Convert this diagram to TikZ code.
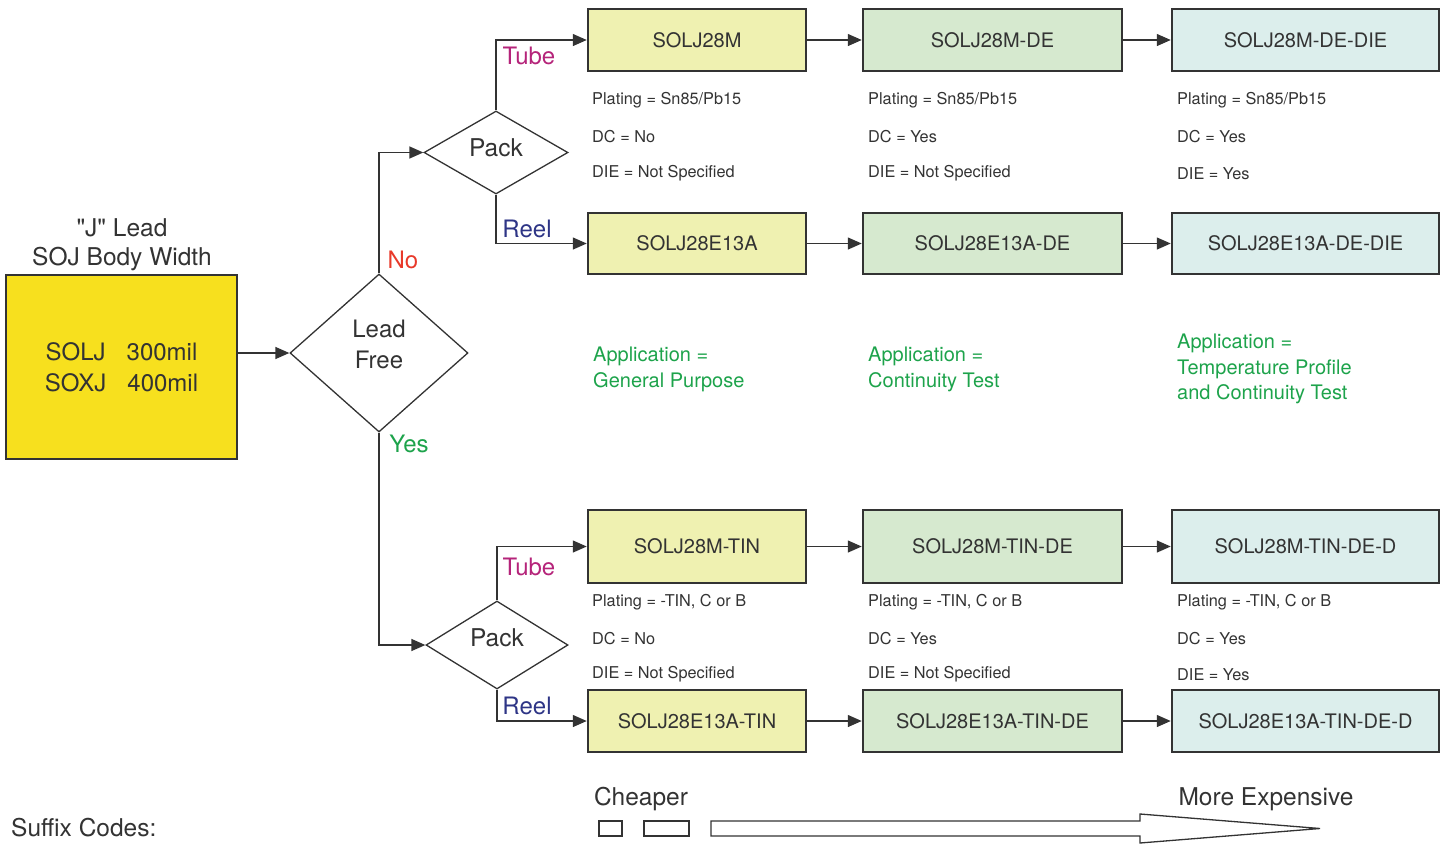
\documentclass[tikz,border=0pt]{standalone}
\usepackage{fontspec}
\setmainfont{TeX Gyre Heros}
\usetikzlibrary{shapes.geometric,arrows.meta}
\definecolor{ink}{HTML}{333333}
\definecolor{srcyellow}{HTML}{F7E01E}
\definecolor{cheapcol}{HTML}{EFF1B1}
\definecolor{midcol}{HTML}{D6E9CF}
\definecolor{dearcol}{HTML}{DCEEEC}
\definecolor{nored}{HTML}{E8392A}
\definecolor{yesgreen}{HTML}{1DA34B}
\definecolor{tubemag}{HTML}{B5247A}
\definecolor{reelnavy}{HTML}{2E3586}
\tikzset{
  part/.style={draw=ink, line width=2.5pt, text=ink, minimum height=#1, inner sep=0pt,
    font=\fontsize{20}{24}\selectfont},
  part/.default=62pt,
  choice/.style={diamond, draw=ink, line width=1.3pt, inner sep=0pt},
  prop/.style={anchor=west, text=ink, inner sep=0pt, font=\fontsize{16.3}{19}\selectfont},
  appl/.style={anchor=north west, align=left, text=yesgreen, inner sep=0pt,
    font=\fontsize{20}{25.5}\selectfont},
  big/.style={text=ink, inner sep=0pt, font=\fontsize{24.5}{30}\selectfont},
  branch/.style={inner sep=0pt, font=\fontsize{24}{29}\selectfont},
  wire/.style={draw=ink, line width=1.4pt, ->}
}
\begin{document}
\begin{tikzpicture}[x=1pt, y=-1pt, >={Triangle[length=14pt,width=12pt]}, line join=miter]
  \useasboundingbox (0,0) rectangle (1444,844);
  \def\ca{697} \def\cb{992.5} \def\cc{1305.5} % column centres
  % source and decisions
  \node[big, align=center, font=\fontsize{24.5}{29}\selectfont] (title) at (122,245)
    {\textquotedbl J\textquotedbl{} Lead\\SOJ Body Width};
  \node[draw=ink, line width=2.8pt, fill=srcyellow, minimum width=231pt, minimum height=184pt,
    big, font=\fontsize{24}{31}\selectfont, align=center] (src) at (121.5,367)
    {SOLJ\hspace{21pt}300mil\\SOXJ\hspace{21pt}400mil};
  \node[choice, minimum width=178pt, minimum height=158pt] (lf) at (379,353) {};
  \node[choice, minimum width=144pt, minimum height=83pt] (pka) at (496,152.5) {};
  \node[choice, minimum width=142pt, minimum height=88pt] (pkb) at (497,645) {};
  \node[big, align=center, font=\fontsize{24}{31}\selectfont] (lft) at ([yshift=8.5pt]lf.center) {Lead\\Free};
  \node[big] (pkat) at ([yshift=4.5pt]pka.center) {Pack};
  \node[big] (pkbt) at ([yshift=7pt]pkb.center) {Pack};
  % parts, top half
  \node[part, fill=cheapcol, minimum width=218pt] (ta) at (\ca,40) {SOLJ28M};
  \node[part, fill=midcol, minimum width=259pt] (tb) at (\cb,40) {SOLJ28M-DE};
  \node[part, fill=dearcol, minimum width=267pt] (tc) at (\cc,40) {SOLJ28M-DE-DIE};
  \node[part=61pt, fill=cheapcol, minimum width=218pt] (ra) at (\ca,243.5) {SOLJ28E13A};
  \node[part=61pt, fill=midcol, minimum width=259pt] (rb) at (\cb,243.5) {SOLJ28E13A-DE};
  \node[part=61pt, fill=dearcol, minimum width=267pt] (rc) at (\cc,243.5) {SOLJ28E13A-DE-DIE};
  % parts, bottom half
  \node[part=73pt, fill=cheapcol, minimum width=218pt] (tta) at (\ca,546.5) {SOLJ28M-TIN};
  \node[part=73pt, fill=midcol, minimum width=259pt] (ttb) at (\cb,546.5) {SOLJ28M-TIN-DE};
  \node[part=73pt, fill=dearcol, minimum width=267pt] (ttc) at (\cc,546.5) {SOLJ28M-TIN-DE-D};
  \node[part, fill=cheapcol, minimum width=218pt] (rra) at (\ca,721) {SOLJ28E13A-TIN};
  \node[part, fill=midcol, minimum width=259pt] (rrb) at (\cb,721) {SOLJ28E13A-TIN-DE};
  \node[part, fill=dearcol, minimum width=267pt] (rrc) at (\cc,721) {SOLJ28E13A-TIN-DE-D};
  % connectors
  \draw[wire] (src.east |- lf.west) -- (lf.west);
  \draw[wire] (lf.north) |- (pka.west);
  \draw[wire] (lf.south) |- (pkb.west);
  \draw[wire] (pka.north) |- (ta.west);
  \draw[wire] (pka.south) |- (ra.west);
  \draw[wire] (pkb.north) |- (tta.west);
  \draw[wire] (pkb.south) |- (rra.west);
  \foreach \u/\v in {ta/tb,tb/tc,ra/rb,rb/rc,tta/ttb,ttb/ttc,rra/rrb,rrb/rrc}
    \draw[wire] (\u.east) -- (\v.west);
  % branch labels
  \node[branch, text=nored] (no) at (403,260) {No};
  \node[branch, text=yesgreen] (yes) at (409,444) {Yes};
  \node[branch, text=tubemag] (tua) at (529,56) {Tube};
  \node[branch, text=reelnavy] (rea) at (527,229) {Reel};
  \node[branch, text=tubemag] (tub) at (529,567) {Tube};
  \node[branch, text=reelnavy] (reb) at (527,706) {Reel};
  % properties
  \foreach \x/\n/\dc/\die in {592/a/No/Not Specified,868/b/Yes/Not Specified,1177/c/Yes/Yes}{
    \node[prop] (pl\n) at (\x,100.5) {Plating = Sn85/Pb15};
    \node[prop] (dc\n) at (\x,136.5) {DC = \dc};
    \node[prop] (di\n) at (\x,173.5) {DIE = \die};
    \node[prop] (tpl\n) at (\x,602.5) {Plating = -TIN, C or B};
    \node[prop] (tdc\n) at (\x,638.5) {DC = \dc};
    \node[prop] (tdi\n) at (\x,674.5) {DIE = \die};
  }
  \node[appl] (apa) at (593,347) {Application =\\General Purpose};
  \node[appl] (apb) at (868,347) {Application =\\Continuity Test};
  \node[appl] (apc) at (1177,334) {Application =\\Temperature Profile\\and Continuity Test};
  % cost scale
  \node[big, anchor=west] (suffix) at (11,828) {Suffix Codes:};
  \node[big] (cheap) at (641,799) {Cheaper};
  \node[big] (dear) at (1266,799) {More Expensive};
  \draw[ink, line width=1.3pt] (599,821) rectangle (622,836) (644,821) rectangle (689,836);
  \draw[ink, line width=1.3pt] (711,821) -- (1140,821) -- (1140,814) -- (1320,828.5)
    -- (1140,843) -- (1140,836) -- (711,836) -- cycle;
\end{tikzpicture}
\end{document}
